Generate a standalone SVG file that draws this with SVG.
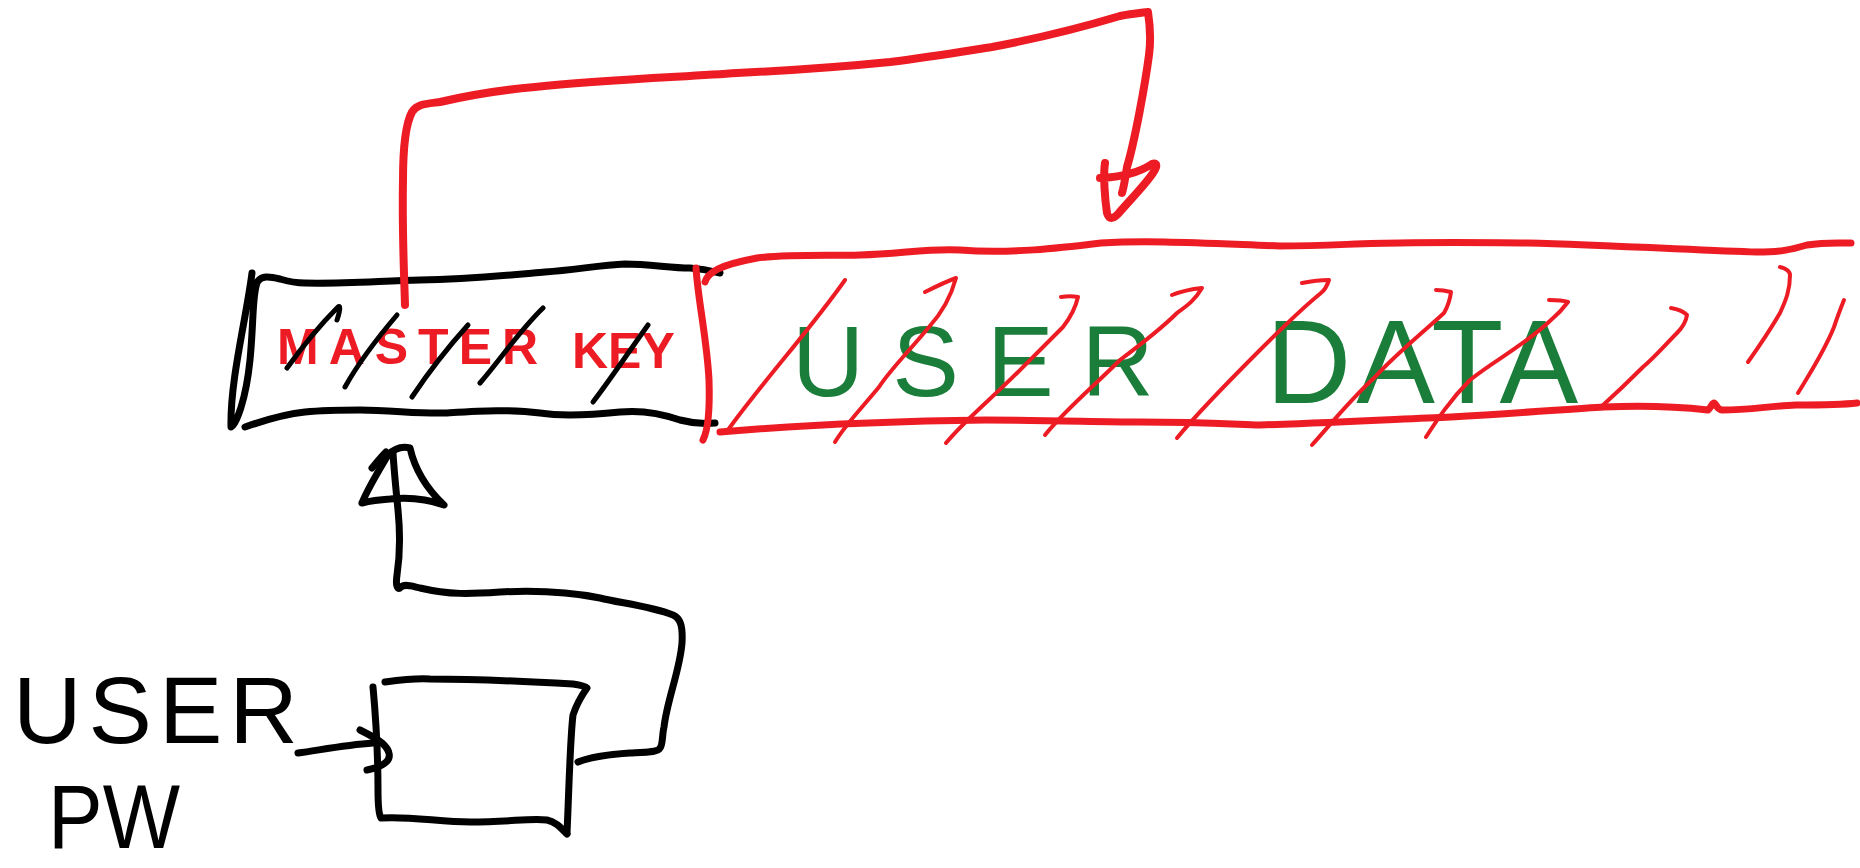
<svg xmlns="http://www.w3.org/2000/svg" width="1860" height="868" viewBox="0 0 1860 868">
  <style>
    .ink { fill: none; stroke-linecap: round; stroke-linejoin: round; }
    .black { stroke: #000; stroke-width: 7; }
    .red { stroke: #ED1C24; stroke-width: 7; }
    .link { stroke: #ED1C24; stroke-width: 8; }
    .hatch { stroke: #ED1C24; stroke-width: 4; }
    .strike { stroke: #000; stroke-width: 5; }
    .lbl { font-family: "Liberation Sans", Arial, sans-serif; }
  </style>
  <rect width="1860" height="868" fill="#fff"/>

  <!-- master key: black box, red label, black strike-through -->
  <g id="master-key">
    <path class="ink black" d="M252,273 C246,320 230,380 231,427 C236,425 246,400 250,360 C254,320 252,290 258,281 C262,276 268,276 280,279 C290,282 296,283 305,283 C340,284 380,281 420,280 C470,279 510,275 545,272 C575,270 600,265 625,264 C650,264 670,268 690,268 C705,269 712,271 720,273"/>
    <path class="ink black" d="M245,427 C265,420 285,414 305,412 C325,410 345,410 360,410 C390,410 420,414 445,413 C480,411 510,409 540,413 C560,416 590,415 620,412 C640,410 660,413 680,420 C695,424 705,424 715,423"/>
    <text class="lbl" fill="#ED1C24" font-size="50" font-weight="bold"><tspan x="277" y="364" letter-spacing="10">MASTER </tspan><tspan x="572" y="368" letter-spacing="0">KEY</tspan></text>
    <path class="ink strike" d="M287,368 C300,350 320,325 338,307 C340,305 341,308 337,320"/>
    <path class="ink strike" d="M345,387 C360,360 380,335 397,315"/>
    <path class="ink strike" d="M412,397 C430,370 450,345 468,325"/>
    <path class="ink strike" d="M480,383 C500,360 520,330 543,308"/>
    <path class="ink strike" d="M593,402 C610,380 630,350 648,325"/>
  </g>

  <!-- user data: open red box, green label, red hatching -->
  <g id="user-data">
    <path class="ink red" d="M696,268 C698,300 707,340 709,380 C710,410 708,430 703,440"/>
    <path class="ink red" d="M705,282 C708,272 720,265 757,258 C790,254 830,256 860,255 C900,254 930,248 960,250 C1010,254 1060,248 1101,243 C1150,240 1200,243 1280,246 C1330,246 1360,243 1400,243 C1460,242 1500,243 1528,243 C1600,245 1700,250 1757,252 C1780,252 1790,250 1807,245 C1825,242 1840,243 1851,243"/>
    <path class="ink red" d="M720,432 C800,425 900,421 986,420 C1050,420 1100,422 1139,422 C1200,422 1230,424 1260,425 C1350,422 1400,419 1451,417 C1520,413 1570,409 1604,407 C1650,405 1690,408 1708,410 C1711,408 1712,403 1714,403 C1716,403 1716,409 1722,410 C1750,410 1770,406 1796,405 C1820,405 1840,405 1857,403"/>
    <text class="lbl" fill="#1B7D3A"><tspan x="792" y="396" font-size="100" letter-spacing="28">USER </tspan><tspan x="1266" y="403" font-size="118" letter-spacing="5">DATA</tspan></text>
    <path class="ink hatch" d="M845,280 C810,330 760,385 728,430"/>
    <path class="ink hatch" d="M925,292 C935,287 945,282 956,278 C950,300 940,315 929,327 C910,350 890,370 879,387 C860,410 845,425 835,442"/>
    <path class="ink hatch" d="M1061,297 C1067,296 1073,296 1078,297 C1075,310 1070,318 1063,327 C1045,345 1030,360 1017,373 C990,400 965,420 946,443"/>
    <path class="ink hatch" d="M1172,295 C1182,291 1192,289 1202,288 C1195,300 1188,305 1177,313 C1160,330 1140,345 1120,360 C1095,385 1065,410 1045,435"/>
    <path class="ink hatch" d="M1302,283 C1312,281 1320,280 1329,280 C1327,286 1325,290 1321,293 C1300,310 1280,330 1260,350 C1230,380 1200,410 1177,438"/>
    <path class="ink hatch" d="M1436,290 C1442,290 1447,291 1451,292 C1450,300 1448,306 1444,313 C1420,335 1395,355 1375,377 C1350,400 1330,425 1312,445"/>
    <path class="ink hatch" d="M1549,300 C1555,300 1562,300 1568,302 C1562,310 1557,315 1551,320 C1525,345 1495,360 1470,380 C1450,400 1437,420 1426,437"/>
    <path class="ink hatch" d="M1671,308 C1677,309 1683,311 1687,315 C1686,322 1682,328 1677,333 C1665,345 1655,357 1643,367 C1625,385 1612,397 1601,407"/>
    <path class="ink hatch" d="M1780,267 C1785,268 1790,271 1790,275 C1790,290 1786,300 1780,313 C1770,330 1760,345 1748,362"/>
    <path class="ink hatch" d="M1844,300 C1840,310 1837,318 1834,327 C1825,350 1812,370 1798,393"/>
  </g>

  <!-- lower black box -->
  <g id="box">
    <path class="ink black" d="M385,682 C400,680 415,678 430,679 C470,679 520,681 573,684 C580,685 585,686 587,688 C582,695 577,703 573,715 C570,740 569,790 567,833"/>
    <path class="ink black" d="M373,687 C376,720 378,760 378,790 C378,805 379,815 381,818 C410,816 440,822 470,822 C510,822 530,818 547,820 C556,822 561,828 567,834"/>
  </g>

  <!-- user password label -->
  <g id="user-pw">
    <text class="lbl" fill="#000"><tspan x="13" y="743" font-size="95" letter-spacing="7">USER</tspan><tspan x="48" y="848" font-size="90" textLength="132" lengthAdjust="spacingAndGlyphs">PW</tspan></text>
  </g>

  <g id="connectors">
    <!-- master key over to user data -->
    <path class="ink link" d="M405,305 C404,270 402,230 403,180 C403,150 405,125 412,112 C417,104 425,104 440,102 C470,95 500,90 535,87 C600,80 680,77 737,73 C800,70 850,66 890,62 C930,57 960,52 992,47 C1040,38 1080,28 1120,16 C1130,14 1140,13 1148,12 C1150,25 1151,40 1149,55 C1145,85 1135,140 1127,167 C1125,180 1123,190 1122,193"/>
    <path class="ink link" d="M1105,163 C1103,175 1105,200 1107,213 C1109,220 1113,219 1118,214 C1130,200 1145,185 1153,173 C1158,166 1157,162 1152,164 C1140,172 1125,177 1100,178"/>
    <!-- box up into master key -->
    <path class="ink black" d="M578,762 C590,757 615,754 630,753 C650,752 658,752 660,748 C663,745 662,735 664,727 C667,700 680,670 682,643 C683,625 680,618 673,615 C650,606 620,603 600,598 C570,592 540,590 500,592 C470,594 450,595 420,588 C410,585 403,584 400,588 C396,590 396,582 397,575 C400,555 400,530 398,510 C396,490 394,470 393,453"/>
    <path class="ink black" d="M362,503 C368,488 378,472 388,455 C395,448 402,446 410,448 C415,470 428,490 444,505 C430,500 410,497 390,499 C375,500 366,502 362,503"/>
    <path class="ink black" d="M372,468 C377,462 381,457 386,452"/>
    <!-- password into box -->
    <path class="ink black" d="M298,753 C320,750 345,745 373,743"/>
    <path class="ink black" d="M360,730 C368,734 376,738 382,743 C390,750 392,758 385,763 C380,767 372,769 367,770"/>
  </g>
</svg>
